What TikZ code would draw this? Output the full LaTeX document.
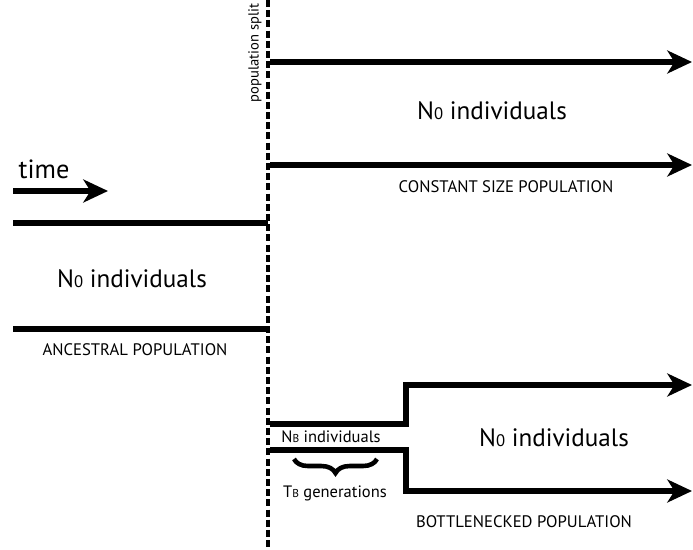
\documentclass[tikz,border=0pt]{standalone}
\usepackage{fontspec}
\setmainfont{PT Sans}
\usetikzlibrary{arrows.meta,decorations.pathreplacing}

% size label with a small index letter on the baseline
\newcommand{\popsize}[2]{N{\fontsize{#2}{#2}\selectfont #1}}

\tikzset{
  lineage/.style={line width=3.6pt},
  growth/.style={lineage,-{Stealth[length=14pt,width=13pt,inset=4pt]}},
  split/.style={line width=2pt,dash pattern=on 4pt off 1.8pt},
  bigtext/.style={font=\fontsize{14.3}{16}\selectfont},
  smalltext/.style={font=\fontsize{9.5}{11}\selectfont},
  midtext/.style={font=\fontsize{9.4}{11}\selectfont},
}

\begin{document}
\begin{tikzpicture}[x=0.02cm,y=-0.02cm]
\useasboundingbox (0,0) rectangle (693,550);

% population split
\coordinate (S0) at (268,0);
\coordinate (S1) at (268,550);
\draw[split] (S0) -- (S1);
\node[font=\fontsize{8.3}{10}\selectfont,rotate=90] (splitlbl) at (255,53) {population split};

% time arrow
\node[font=\fontsize{15}{17}\selectfont] (timelbl) at (44,169) {time};
\coordinate (t0) at (13,191);
\coordinate (t1) at (108,191);
\draw[growth] (t0) -- (t1);

% ancestral population
\coordinate (A0) at (13,223);
\coordinate (A1) at (268,223);
\coordinate (B0) at (13,329);
\coordinate (B1) at (268,329);
\draw[lineage] (A0) -- (A1);
\draw[lineage] (B0) -- (B1);
\node[bigtext] (ancN) at (132,279) {\popsize{0}{9.5} individuals};
\node[smalltext] (anclbl) at (135,350) {ANCESTRAL POPULATION};

% constant size population
\coordinate (C0) at (270,62);
\coordinate (C1) at (692,62);
\coordinate (D0) at (270,165);
\coordinate (D1) at (692,165);
\draw[growth] (C0) -- (C1);
\draw[growth] (D0) -- (D1);
\node[bigtext] (conN) at (492,111) {\popsize{0}{9.5} individuals};
\node[smalltext] (conlbl) at (506,187) {CONSTANT SIZE POPULATION};

% bottlenecked population
\coordinate (E0) at (270,424);
\coordinate (E1) at (406,424);
\coordinate (E2) at (406,385);
\coordinate (E3) at (692,385);
\coordinate (F0) at (270,450);
\coordinate (F1) at (406,450);
\coordinate (F2) at (406,491);
\coordinate (F3) at (692,491);
\draw[growth] (E0) -- (E1) -- (E2) -- (E3);
\draw[growth] (F0) -- (F1) -- (F2) -- (F3);
\node[midtext] (botN) at (331,437) {\popsize{B}{6.5} individuals};
\coordinate (T0) at (294,459);
\coordinate (T1) at (377,459);
\draw[line width=2.6pt,decorate,decoration={brace,mirror,amplitude=8pt}] (T0) -- (T1);
\node[midtext] (botT) at (335,493) {T{\fontsize{6.5}{6.5}\selectfont B} generations};
\node[bigtext] (recN) at (554,438) {\popsize{0}{9.5} individuals};
\node[smalltext] (botlbl) at (524,522) {BOTTLENECKED POPULATION};
\end{tikzpicture}
\end{document}
